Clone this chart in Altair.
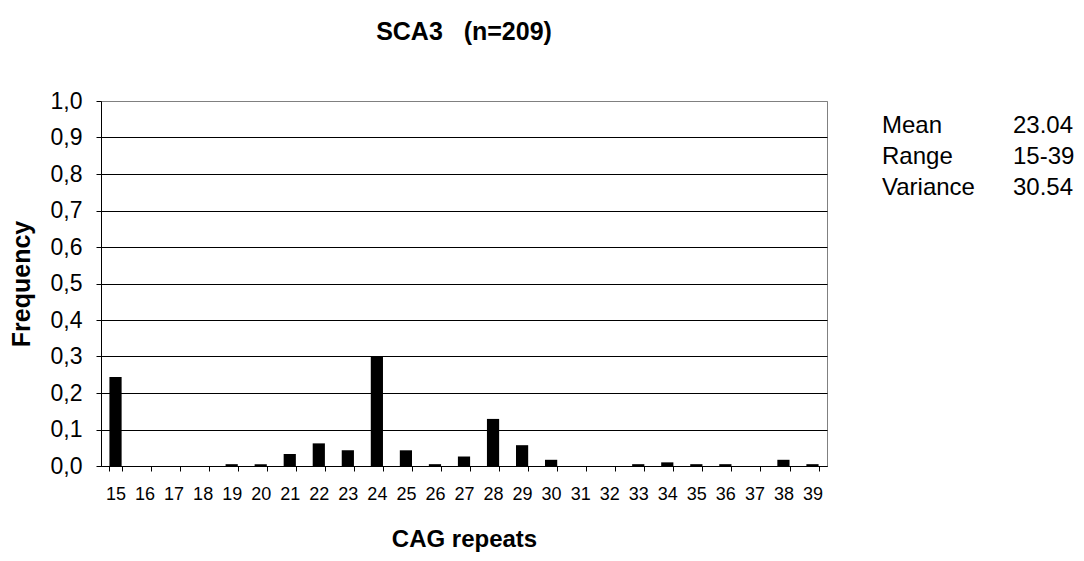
import altair as alt
import pandas as pd

repeats = [str(v) for v in range(15, 40)]
freq = [0.244, 0.0, 0.0, 0.0, 0.005, 0.005, 0.033, 0.062, 0.043, 0.301,
        0.043, 0.005, 0.026, 0.129, 0.057, 0.017, 0.0, 0.0, 0.005, 0.010,
        0.005, 0.005, 0.0, 0.017, 0.005]
stat_names = ["Mean", "Range", "Variance"]
stat_values = ["23.04", "15-39", "30.54"]

df = pd.DataFrame({"repeat": repeats, "freq": freq})
FONT = "Liberation Sans"

bars = alt.Chart(df).mark_bar(color="black", strokeWidth=0).encode(
    x=alt.X("repeat:N", sort=repeats,
            scale=alt.Scale(paddingInner=0.58, paddingOuter=0.29),
            axis=alt.Axis(title="CAG repeats", labelAngle=0, tickBand="extent",
                          tickSize=5, labelPadding=14, labelFontSize=18,
                          titleFontSize=24, titleFontWeight="bold", titlePadding=24,
                          domainColor="black", tickColor="black",
                          labelColor="black", titleColor="black")),
    y=alt.Y("freq:Q", scale=alt.Scale(domain=[0, 1]),
            axis=alt.Axis(title="Frequency", values=[i / 10 for i in range(11)],
                          labelExpr="replace(format(datum.value, '.1f'), '.', ',')",
                          tickSize=5, labelPadding=14, labelFontSize=23,
                          titleFontSize=25, titleFontWeight="bold", titlePadding=16,
                          grid=True, gridWidth=1,
                          gridColor={"condition": {"test": "datum.value >= 1", "value": "#808080"},
                                     "value": "black"},
                          domainColor="black", tickColor="black",
                          labelColor="black", titleColor="black")),
)

stats = pd.DataFrame({"names": ["\n".join(stat_names)], "values": ["\n".join(stat_values)]})
names_text = alt.Chart(stats).mark_text(
    align="left", baseline="alphabetic", fontSize=24, font=FONT, lineBreak="\n", lineHeight=31, color="black"
).encode(text="names:N", x=alt.value(781), y=alt.value(32))
values_text = alt.Chart(stats).mark_text(
    align="left", baseline="alphabetic", fontSize=24, font=FONT, lineBreak="\n", lineHeight=31, color="black"
).encode(text="values:N", x=alt.value(912), y=alt.value(32))

chart = alt.layer(bars, names_text, values_text).properties(
    width=726, height=365,
    title=alt.TitleParams("SCA3\u00a0\u00a0\u00a0(n=209)", fontSize=25, fontWeight="bold", font=FONT,
                          color="black", offset=45, anchor="middle"),
    autosize=alt.AutoSizeParams(type="none"),
    padding={"left": 93, "top": 93, "right": 249, "bottom": 87},
).configure(font=FONT).configure_axis(labelFont=FONT, titleFont=FONT).configure_view(
    stroke="#808080", strokeWidth=1
)

chart.save("out.html", embed_options={"renderer": "svg", "actions": False})
